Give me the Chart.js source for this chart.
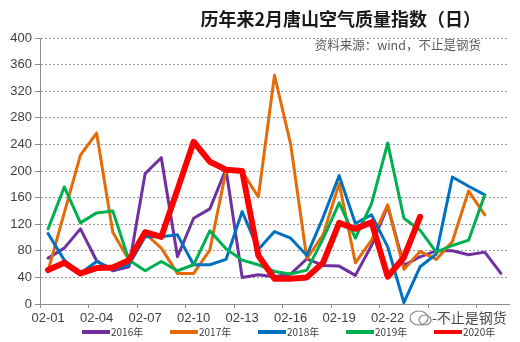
<!DOCTYPE html>
<html lang="zh-CN">
<head>
    <meta charset="UTF-8">
    <title>历年来2月唐山空气质量指数（日）</title>
    <script src="https://cdn.jsdelivr.net/npm/chart.js"></script>
    <style>
        html, body {
            margin: 0;
            padding: 0;
            background: #ffffff;
        }
        .chart-box {
            position: relative;
            width: 520px;
            height: 342px;
        }
    </style>
</head>
<body>
    <div class="chart-box">
        <canvas id="aqiChart" width="520" height="342"></canvas>
    </div>

    <script>
        // 2月每日
        const days = ['02-01', '02-02', '02-03', '02-04', '02-05', '02-06', '02-07', '02-08', '02-09', '02-10',
            '02-11', '02-12', '02-13', '02-14', '02-15', '02-16', '02-17', '02-18', '02-19', '02-20',
            '02-21', '02-22', '02-23', '02-24', '02-25', '02-26', '02-27', '02-28', '02-29'];

        const aqi2016 = [69, 84, 113, 65, 50, 56, 196, 220, 71, 129, 143, 203, 40, 44, 41, 45, 68, 58, 57, 43, 88, 147, 58, 71, 80, 80, 74, 78, 46];
        const aqi2017 = [50, 137, 224, 257, 108, 66, 106, 84, 46, 46, 81, 200, 199, 161, 344, 240, 68, 104, 181, 62, 96, 149, 52, 79, 67, 94, 170, 134];
        const aqi2018 = [106, 66, 46, 64, 52, 59, 101, 101, 104, 59, 59, 67, 139, 82, 109, 99, 73, 130, 193, 121, 134, 86, 2, 56, 75, 191, 177, 164];
        const aqi2019 = [113, 176, 122, 137, 140, 66, 50, 64, 50, 59, 110, 83, 66, 59, 49, 45, 51, 98, 152, 99, 151, 242, 129, 111, 78, 88, 96, 164];
        const aqi2020 = [51, 62, 46, 54, 55, 66, 108, 101, 172, 244, 214, 202, 200, 73, 38, 38, 40, 62, 122, 113, 123, 41, 70, 131];

        const yearNames = ['2016年', '2017年', '2018年', '2019年', '2020年'];
        const yTicks = [0, 40, 80, 120, 160, 200, 240, 280, 320, 360, 400];

        const colors = ['#7030A0', '#E36C09', '#0070C0', '#00B050', '#FF0000'];

        function makeLine(i, data) {
            return {
                label: yearNames[i],
                data: data,
                borderColor: colors[i],
                backgroundColor: colors[i],
                borderWidth: i === 4 ? 6 : 3,
                pointRadius: 0,
                tension: 0,
                fill: false,
                borderJoinStyle: 'round',
                borderCapStyle: 'round',
                order: 4 - i
            };
        }

        // title, source note, legend, watermark
        const decorations = {
            id: 'decorations',
            afterDraw(chart) {
                const ctx = chart.ctx;
                ctx.save();
                ctx.textBaseline = 'middle';

                ctx.fillStyle = '#1a1a1a';
                ctx.textAlign = 'right';
                ctx.font = 'bold 18px "Noto Sans CJK SC"';
                ctx.fillText('历年来2月唐山空气质量指数（日）', 481, 19);

                ctx.fillStyle = '#595959';
                ctx.font = '12.5px "Noto Sans CJK SC"';
                ctx.fillText('资料来源：wind，不止是钢货', 481, 45);

                // legend
                ctx.textAlign = 'left';
                ctx.font = '10px "Noto Sans CJK SC"';
                chart.data.datasets.forEach((ds, i) => {
                    const x = 82 + i * 88;
                    ctx.fillStyle = ds.borderColor;
                    ctx.fillRect(x, 330, 28, 4);
                    ctx.fillStyle = '#404040';
                    ctx.fillText(ds.label, x + 29, 332);
                });

                // watermark
                ctx.fillStyle = 'rgba(255,255,255,0.92)';
                ctx.fillRect(408, 309, 102, 19);
                ctx.strokeStyle = '#8a8a8a';
                ctx.lineWidth = 1.2;
                ctx.beginPath();
                ctx.ellipse(419, 318, 9, 7, 0, 0, Math.PI * 2);
                ctx.stroke();
                ctx.beginPath();
                ctx.ellipse(425, 320, 6, 5, 0, 0, Math.PI * 2);
                ctx.stroke();
                ctx.fillStyle = '#4a4a4a';
                ctx.font = '14px "Noto Sans CJK SC"';
                ctx.fillText('-不止是钢货', 432, 318);
                ctx.restore();
            }
        };

        const ctx = document.getElementById('aqiChart').getContext('2d');
        new Chart(ctx, {
            type: 'line',
            data: {
                labels: days,
                datasets: [
                    makeLine(0, aqi2016),
                    makeLine(1, aqi2017),
                    makeLine(2, aqi2018),
                    makeLine(3, aqi2019),
                    makeLine(4, aqi2020)
                ]
            },
            options: {
                responsive: false,
                devicePixelRatio: 1,
                animation: false,
                layout: {
                    padding: { top: 38, left: 0, right: 11, bottom: 0 }
                },
                plugins: {
                    legend: { display: false },
                    tooltip: { enabled: false }
                },
                scales: {
                    x: {
                        offset: true,
                        grid: {
                            display: true,
                            offset: true,
                            drawOnChartArea: false,
                            drawTicks: true,
                            tickLength: 4,
                            tickColor: (c) => (c.index % 3 === 0 ? '#8c8c8c' : 'rgba(0,0,0,0)')
                        },
                        border: { display: true, color: '#8c8c8c', width: 1 },
                        ticks: {
                            autoSkip: false,
                            maxRotation: 0,
                            padding: 3,
                            color: '#404040',
                            font: { family: '"Liberation Sans", Arial', size: 13 },
                            callback: function (val, index) {
                                return index % 3 === 0 ? this.getLabelForValue(val) : '';
                            }
                        },
                        afterFit: (scale) => { scale.height = 38; }
                    },
                    y: {
                        min: 0,
                        max: 400,
                        afterBuildTicks: (scale) => {
                            scale.ticks = yTicks.map(v => ({ value: v }));
                        },
                        grid: {
                            color: '#9a9a9a',
                            lineWidth: 1,
                            tickLength: 5,
                            tickColor: '#8c8c8c'
                        },
                        border: { display: true, color: '#8c8c8c', width: 1, dash: [2, 2] },
                        ticks: {
                            padding: 3,
                            color: '#404040',
                            font: { family: '"Liberation Sans", Arial', size: 13 }
                        },
                        afterFit: (scale) => { scale.width = 40; }
                    }
                }
            },
            plugins: [decorations]
        });
    </script>
</body>
</html>
